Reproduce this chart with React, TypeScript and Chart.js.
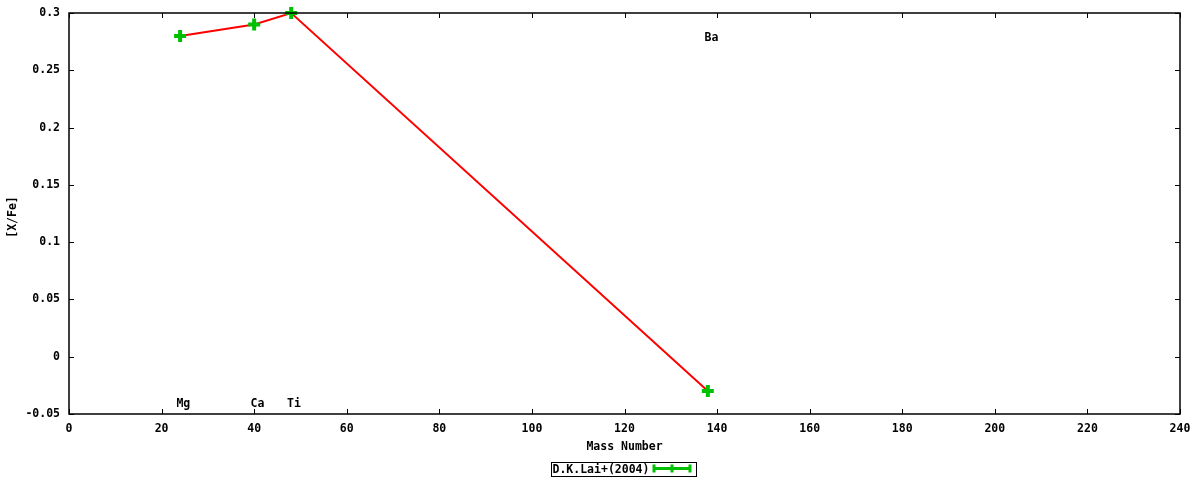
import { useEffect, useRef } from 'react'
import { Chart, ChartConfiguration, Plugin, registerables } from 'chart.js'

Chart.register(...registerables)

// D.K.Lai+(2004): [X/Fe] against mass number
const massNumbers = [24, 40, 48, 138]
const xFe = [0.28, 0.29, 0.3, -0.03]

// element labels placed in the plot
const labelNames = ['Mg', 'Ca', 'Ti', 'Ba']
const labelX = [24.7, 40.7, 48.6, 138.8]
const labelY = [-0.041, -0.041, -0.041, 0.278]

const yTickLabels: Record<string, string> = {
  '0.3': '0.3',
  '0.25': '0.25',
  '0.2': '0.2',
  '0.15': '0.15',
  '0.1': '0.1',
  '0.05': '0.05',
  '0': '0',
  '-0.05': '-0.05',
}

const FONT = '"DejaVu Sans Mono", "Liberation Mono", monospace'
const FSIZE = 11.5
const GREEN = '#00c000'

const framePlugin: Plugin = {
  id: 'gnuplotFrame',
  afterDraw(chart) {
    const { ctx, chartArea: a, scales } = chart
    const x = scales.x
    const y = scales.y
    ctx.save()
    ctx.strokeStyle = '#000'
    ctx.lineWidth = 1.5
    ctx.strokeRect(a.left, a.top, a.right - a.left, a.bottom - a.top)

    // inward mirrored ticks
    ctx.lineWidth = 1
    ctx.beginPath()
    x.ticks.forEach((t) => {
      const px = Math.round(x.getPixelForValue(t.value)) + 0.5
      ctx.moveTo(px, a.bottom)
      ctx.lineTo(px, a.bottom - 5)
      ctx.moveTo(px, a.top)
      ctx.lineTo(px, a.top + 5)
    })
    y.ticks.forEach((t) => {
      const py = Math.round(y.getPixelForValue(t.value)) + 0.5
      ctx.moveTo(a.left, py)
      ctx.lineTo(a.left + 5, py)
      ctx.moveTo(a.right, py)
      ctx.lineTo(a.right - 5, py)
    })
    ctx.stroke()

    ctx.fillStyle = '#000'
    ctx.font = `bold ${FSIZE}px ${FONT}`
    ctx.textBaseline = 'middle'

    // y axis title
    ctx.save()
    ctx.translate(13, 217)
    ctx.rotate(-Math.PI / 2)
    ctx.textAlign = 'center'
    ctx.fillText('[X/Fe]', 0, 0)
    ctx.restore()

    // element labels
    ctx.textAlign = 'center'
    labelNames.forEach((name, i) => {
      ctx.fillText(name, x.getPixelForValue(labelX[i]), y.getPixelForValue(labelY[i]))
    })

    // legend box
    const bx = 551
    const by = 462
    const bw = 145
    const bh = 14
    ctx.lineWidth = 1
    ctx.strokeStyle = '#000'
    ctx.strokeRect(bx + 0.5, by + 0.5, bw, bh)
    ctx.textAlign = 'left'
    ctx.fillText('D.K.Lai+(2004)', bx + 1.5, by + bh / 2 + 1)
    const lx0 = 654
    const lx1 = 690
    const ly = by + 6.5
    ctx.strokeStyle = GREEN
    ctx.lineWidth = 3
    ctx.beginPath()
    ctx.moveTo(lx0, ly)
    ctx.lineTo(lx1, ly)
    ctx.moveTo(lx0, ly - 4)
    ctx.lineTo(lx0, ly + 4)
    ctx.moveTo(lx1, ly - 4)
    ctx.lineTo(lx1, ly + 4)
    ctx.moveTo((lx0 + lx1) / 2, ly - 4)
    ctx.lineTo((lx0 + lx1) / 2, ly + 4)
    ctx.stroke()
    ctx.restore()
  },
}

function LaiChart() {
  const canvasRef = useRef<HTMLCanvasElement>(null)
  const chartRef = useRef<Chart>()

  useEffect(() => {
    if (!canvasRef.current) return
    const ctx = canvasRef.current.getContext('2d')
    if (!ctx) return

    const tickFont = { family: FONT, size: FSIZE, weight: 'bold' as const }

    const config: ChartConfiguration = {
      type: 'line',
      data: {
        datasets: [
          {
            label: 'D.K.Lai+(2004)',
            data: massNumbers.map((m, i) => ({ x: m, y: xFe[i] })),
            borderColor: '#ff0000',
            borderWidth: 2,
            pointStyle: 'cross',
            pointRadius: 6,
            pointBorderWidth: 4,
            pointBorderColor: GREEN,
            pointBackgroundColor: GREEN,
            tension: 0,
            clip: false,
          },
        ],
      },
      options: {
        animation: false,
        responsive: true,
        maintainAspectRatio: false,
        layout: { padding: { top: 13, right: 20, bottom: 0, left: 0 } },
        plugins: {
          legend: { display: false },
          tooltip: { enabled: false },
        },
        scales: {
          x: {
            type: 'linear',
            min: 0,
            max: 240,
            grid: { display: false, drawTicks: false },
            border: { display: false },
            ticks: {
              stepSize: 20,
              padding: 8,
              color: '#000',
              font: tickFont,
            },
            title: {
              display: true,
              text: 'Mass Number',
              color: '#000',
              padding: { top: 0, bottom: 26 },
              font: tickFont,
            },
            afterFit: (scale) => {
              scale.height = 66
              scale.paddingLeft = 0
              scale.paddingRight = 0
            },
          },
          y: {
            type: 'linear',
            min: -0.05,
            max: 0.3,
            grid: { display: false, drawTicks: false },
            border: { display: false },
            ticks: {
              stepSize: 0.05,
              padding: 9,
              color: '#000',
              font: tickFont,
              callback: (v) => {
                const key = String(Math.round(Number(v) * 100) / 100)
                return yTickLabels[key] ?? key
              },
            },
            afterFit: (scale) => {
              scale.width = 69
              scale.paddingTop = 0
              scale.paddingBottom = 0
            },
          },
        },
      },
      plugins: [framePlugin],
    }

    if (chartRef.current) chartRef.current.destroy()
    chartRef.current = new Chart(ctx, config)

    return () => {
      if (chartRef.current) chartRef.current.destroy()
    }
  }, [])

  return (
    <div style={{ position: 'fixed', left: 0, top: 0, width: 1200, height: 480, background: '#fff' }}>
      <canvas ref={canvasRef} />
    </div>
  )
}

export default function App() {
  return <LaiChart />
}
